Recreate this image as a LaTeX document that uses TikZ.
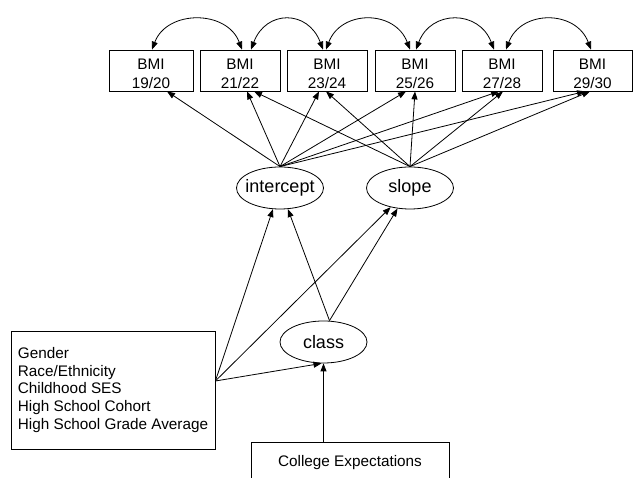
\documentclass[tikz,border=0pt]{standalone}
\usepackage{fontspec}
\setmainfont{Liberation Sans}
\usetikzlibrary{arrows.meta,shapes.geometric}

\tikzset{
    caja/.style={draw,rectangle,minimum width=80pt,minimum height=41pt,inner sep=0pt,
        align=center,text height=35.6pt,text depth=0pt,font=\fontsize{15.3}{18.3}\selectfont},
    latente/.style={draw,ellipse,minimum width=87pt,minimum height=42pt,inner sep=0pt,
        font=\fontsize{18}{20}\selectfont},
    lista/.style={draw,rectangle,minimum width=204pt,minimum height=118pt,inner sep=0pt,
        align=left,font=\fontsize{15.3}{17.7}\selectfont},
}

\begin{document}
\begin{tikzpicture}[x=1pt,y=1pt,line width=0.8pt,>={Triangle[length=8pt,width=6pt]}]
    \clip (0,0) rectangle (634,478);

    \node[caja,minimum width=84pt] (b1) at (151,407.5) {BMI\\19/20};
    \node[caja] (b2) at (240,407.5) {BMI\\21/22};
    \node[caja] (b3) at (327,407.5) {BMI\\23/24};
    \node[caja] (b4) at (415,407.5) {BMI\\25/26};
    \node[caja] (b5) at (502,407.5) {BMI\\27/28};
    \node[caja,minimum width=79pt] (b6) at (592.5,407.5) {BMI\\29/30};

    \node[latente] (int) at (280,290) {\makebox[0pt]{intercept}};
    \node[latente] (sl) at (410,290) {\makebox[0pt]{slope}};
    \node[latente] (cl) at (323.5,136) {\makebox[0pt]{class}};

    \node[lista] (cov) at (113,88) {Gender\\Race/Ethnicity\\Childhood SES\\High School Cohort\\High School Grade Average};
    \node[draw,rectangle,minimum width=198pt,minimum height=42pt,font=\fontsize{15.3}{18}\selectfont] (ce) at (350,15) {College Expectations};

    %Covarianzas entre mediciones
    \draw[<->] ([xshift=1pt]b1.north) .. controls +(15,40) and +(-15,40) .. ([xshift=2pt]b2.north);
    \draw[<->] ([xshift=11pt]b2.north) .. controls +(15,40) and +(-15,40) .. ([xshift=-4pt]b3.north);
    \draw[<->] ([xshift=-1pt]b3.north) .. controls +(15,40) and +(-15,40) .. ([xshift=-5pt]b4.north);
    \draw[<->] ([xshift=1pt]b4.north) .. controls +(15,40) and +(-15,40) .. ([xshift=-8pt]b5.north);
    \draw[<->] ([xshift=4pt]b5.north) .. controls +(15,40) and +(-15,40) .. ([xshift=-1.5pt]b6.north);

    %Cargas del intercepto
    \draw[->] (int.north) -- ([xshift=16pt]b1.south);
    \draw[->] (int.north) -- ([xshift=7pt]b2.south);
    \draw[->] (int.north) -- ([xshift=-8pt]b3.south);
    \draw[->] (int.north) -- ([xshift=-9pt]b4.south);
    \draw[->] (int.north) -- ([xshift=-3pt]b5.south);
    \draw[->] (int.north) -- ([xshift=-7.5pt]b6.south);

    %Cargas de la pendiente
    \draw[->] (sl.north) -- ([xshift=14pt]b2.south);
    \draw[->] (sl.north) -- ([xshift=-1pt]b3.south);
    \draw[->] (sl.north) -- (b4.south);
    \draw[->] (sl.north) -- ([xshift=1pt]b5.south);
    \draw[->] (sl.north) -- ([xshift=-2.5pt]b6.south);

    %Covariables y clases
    \draw[->] ([yshift=9pt]cov.east) -- (int);
    \draw[->] ([yshift=9pt]cov.east) -- (sl);
    \draw[->] ([yshift=9pt]cov.east) -- ([xshift=-2pt]cl.south);
    \draw[->] ([xshift=6pt]cl.north) -- (int);
    \draw[->] ([xshift=6pt]cl.north) -- (sl);
    \draw[->] ([xshift=-26.5pt]ce.north) -- (cl.south);

\end{tikzpicture}
\end{document}
